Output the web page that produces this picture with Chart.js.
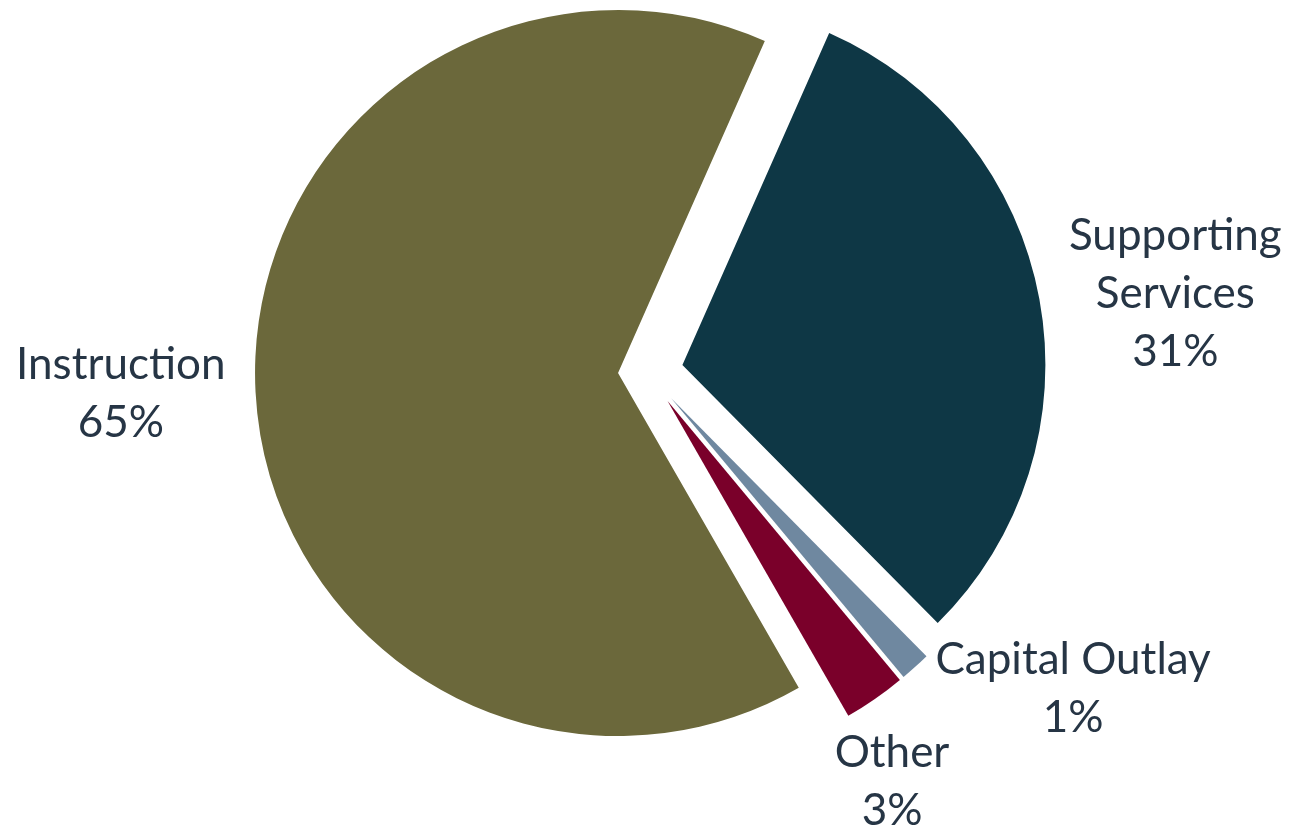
<!DOCTYPE html>
<html>
<head>
<meta charset="utf-8">
<script src="https://cdn.jsdelivr.net/npm/chart.js@4.4.1/dist/chart.umd.min.js"></script>
<style>
  html, body { margin: 0; padding: 0; background: #fff; }
  #wrap { width: 1289px; height: 835px; position: relative; }
</style>
</head>
<body>
<div id="wrap"><canvas id="pie"></canvas></div>
<script>
// slice data, clockwise from the top-right
var categories = ['Supporting\nServices', 'Capital Outlay', 'Other', 'Instruction'];
var shares = [30.96, 1.36, 2.76, 64.92];
var colors = ['#0e3745', '#6f88a0', '#7a002a', '#6b683b'];
var explode = [36, 36, 36, 29];   // px each slice is pulled out

var total = shares.reduce((a, b) => a + b, 0);

var sliceLabels = {
    id: 'sliceLabels',
    afterDatasetsUpdate(chart) {
        // pull each slice out along its bisector
        chart.getDatasetMeta(0).data.forEach((arc, i) => {
            let mid = (arc.startAngle + arc.endAngle) / 2;
            arc.x += Math.cos(mid) * explode[i];
            arc.y += Math.sin(mid) * explode[i];
        });
    },
    afterDatasetsDraw(chart) {
        let ctx = chart.ctx;
        let gap = 30, lineH = 58;
        ctx.save();
        ctx.font = '44px Lato';
        ctx.fillStyle = '#263545';
        ctx.textAlign = 'center';
        ctx.textBaseline = 'middle';
        chart.getDatasetMeta(0).data.forEach((arc, i) => {
            let lines = categories[i].split('\n');
            lines.push(Math.round(shares[i] / total * 100) + '%');
            let w = Math.max(...lines.map(t => ctx.measureText(t).width));
            let h = lines.length * lineH;
            let mid = (arc.startAngle + arc.endAngle) / 2;
            let dx = Math.cos(mid), dy = Math.sin(mid);
            let px = arc.x + dx * (arc.outerRadius + gap);
            let py = arc.y + dy * (arc.outerRadius + gap);
            let cx, cy;
            if (Math.abs(dx) > 0.6) { cx = px + Math.sign(dx) * w / 2; cy = py; }
            else { cx = px; cy = py + Math.sign(dy) * h / 2; }
            lines.forEach((t, k) => {
                ctx.fillText(t, cx, cy - h / 2 + lineH * (k + 0.5));
            });
        });
        ctx.restore();
    }
};

new Chart(document.getElementById('pie'), {
    type: 'pie',
    data: {
        labels: categories,
        datasets: [{ data: shares, backgroundColor: colors, borderWidth: 0, clip: false }]
    },
    options: {
        responsive: true, maintainAspectRatio: false, animation: false,
        rotation: 23.85, radius: 363,
        layout: { padding: { left: 5, right: 0, top: 0, bottom: 92 } },
        plugins: { legend: { display: false }, tooltip: { enabled: false } },
        events: []
    },
    plugins: [sliceLabels]
});
</script>
</body>
</html>
